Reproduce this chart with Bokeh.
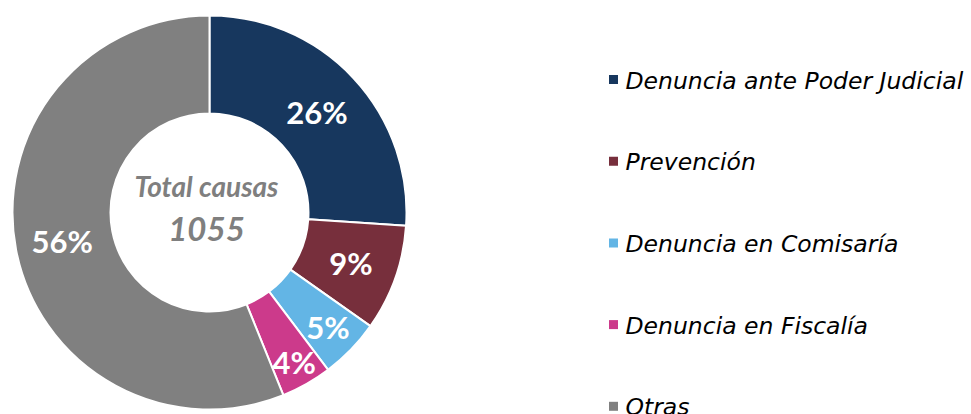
import math
from bokeh.plotting import figure
from bokeh.models import Range1d, ColumnDataSource
from bokeh.core.properties import value
from bokeh.embed import file_html
from bokeh.resources import INLINE

# ---- data ----
categories = ["Denuncia ante Poder Judicial", "Prevención", "Denuncia en Comisaría",
              "Denuncia en Fiscalía", "Otras"]
counts = [275, 92, 52, 44, 592]
pct_labels = ["26%", "9%", "5%", "4%", "56%"]
total_label = "Total causas"
total_value = "1055"

# ---- style ----
colors = ["#17375e", "#772f3c", "#63b5e5", "#cc3a8b", "#808080"]
label_radius = [147, 150, 165, 172, 150]
W, H = 971, 414


def X(s):
    return s


def Y(s):
    return H - s


cx, cy = X(209), Y(212)
r_in, r_out = 99, 197

total = sum(counts)
starts, ends, lx, ly = [], [], [], []
cum = 0
for i, c in enumerate(counts):
    a0 = math.pi / 2 - 2 * math.pi * cum / total
    cum += c
    a1 = math.pi / 2 - 2 * math.pi * cum / total
    starts.append(a0)
    ends.append(a1)
    mid = (a0 + a1) / 2
    lx.append(cx + label_radius[i] * math.cos(mid))
    ly.append(cy + label_radius[i] * math.sin(mid))

p = figure(width=W, height=H, output_backend="svg", toolbar_location=None,
           x_range=Range1d(0, W), y_range=Range1d(0, H), min_border=0)
p.axis.visible = False
p.grid.visible = False
p.outline_line_color = None
p.background_fill_color = "white"
p.border_fill_color = "white"

src = ColumnDataSource(dict(start=starts, end=ends, color=colors, lx=lx, ly=ly,
                            lab=pct_labels))
p.annular_wedge(x=cx, y=cy, inner_radius=r_in, outer_radius=r_out,
                inner_radius_units="screen", outer_radius_units="screen",
                start_angle="start", end_angle="end", direction="clock",
                fill_color="color", line_color="white", line_width=2, source=src)

p.text(x="lx", y="ly", text="lab", source=src, text_color="white",
       text_font=value("Lato"), text_font_style="bold", text_font_size="31px",
       text_align="center", text_baseline="middle")

p.text(x=[cx - 3], y=[Y(185)], text=[total_label], text_color="#7f7f7f",
       text_font=value("Lato"), text_font_style="bold italic", text_font_size="28px",
       text_align="center", text_baseline="middle")
p.text(x=[cx - 3], y=[Y(228)], text=[total_value], text_color="#7f7f7f",
       text_font=value("Lato"), text_font_style="bold italic", text_font_size="33px",
       text_align="center", text_baseline="middle")

# legend (manual)
n = len(categories)
leg_y = [Y(79 + k * 81.7) for k in range(n)]
p.rect(x=[X(613)] * n, y=leg_y, width=9, height=9,
       width_units="screen", height_units="screen", fill_color=colors, line_color=None)
p.text(x=[X(625)] * n, y=[v - 1 for v in leg_y], text=categories, text_color="black",
       text_font=value("DejaVu Sans"), text_font_style="italic", text_font_size="23.5px",
       text_align="left", text_baseline="middle")

open("out.html", "w").write(file_html(p, INLINE))
